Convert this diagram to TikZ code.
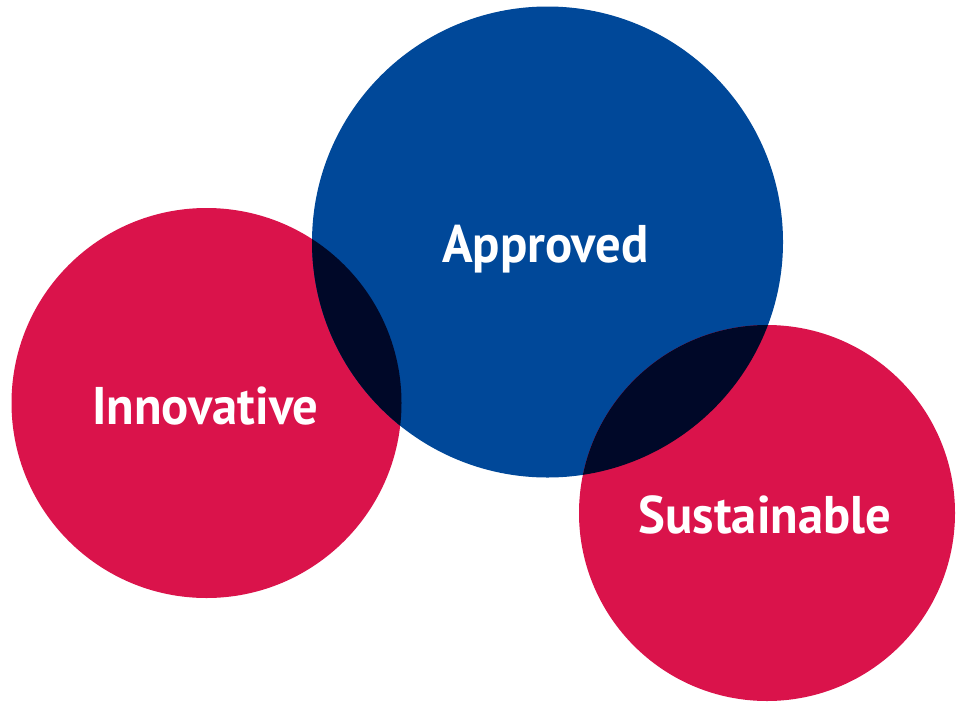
\documentclass[tikz,border=0pt]{standalone}
\usepackage{fontspec}
\usepackage{graphicx}
\setmainfont{PT Sans}
\definecolor{brandred}{RGB}{218,19,75}
\definecolor{brandblue}{RGB}{0,72,153}
\definecolor{overlapnavy}{RGB}{0,8,40}
% slightly condensed label text
\newcommand{\circlelabel}[1]{\scalebox{0.955}[1]{#1}}
\begin{document}
\begin{tikzpicture}[x=1pt,y=-1pt,
  label/.style={text=white,font=\fontsize{53}{60}\selectfont\bfseries,anchor=base,inner sep=0pt}]
\useasboundingbox (0,0) rectangle (957,704);
% the three circles
\fill[brandred]  (206.5,403) circle[radius=195];
\fill[brandblue] (547.5,242) circle[radius=235.5];
\fill[brandred]  (767,513)   circle[radius=188];
% overlapping regions
\begin{scope}
  \clip (547.5,242) circle[radius=235.5];
  \fill[overlapnavy] (206.5,403) circle[radius=195];
  \fill[overlapnavy] (767,513) circle[radius=188];
\end{scope}
% labels
\node[label] (approved)    at (545.5,262) {\circlelabel{Approved}};
\node[label] (innovative)  at (205.5,424) {\circlelabel{Innovative}};
\node[label] (sustainable) at (765,533)   {\circlelabel{Sustainable}};
\end{tikzpicture}
\end{document}
